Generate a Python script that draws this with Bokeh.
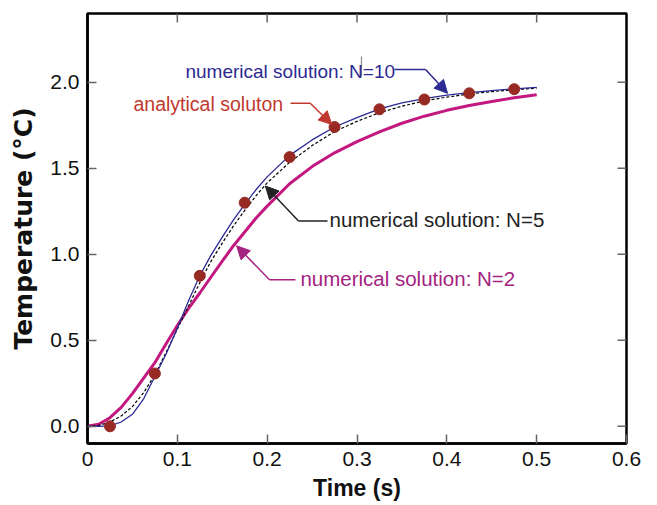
from bokeh.plotting import figure
from bokeh.models import Range1d, FixedTicker, Label, Arrow, NormalHead, PrintfTickFormatter
from bokeh.embed import file_html
from bokeh.resources import INLINE

# ---- data ----
t_dots = [0.025, 0.075, 0.125, 0.175, 0.225, 0.275, 0.325, 0.375, 0.425, 0.475]
T_analytical = [0.0, 0.307, 0.875, 1.30, 1.565, 1.74, 1.843, 1.90, 1.936, 1.96]

t_curve = [0, 0.0125, 0.025, 0.0375, 0.05, 0.0625, 0.075, 0.0875, 0.1, 0.1125,
           0.125, 0.1375, 0.15, 0.1625, 0.175, 0.1875, 0.2, 0.225, 0.25, 0.275,
           0.3, 0.325, 0.35, 0.375, 0.4, 0.425, 0.45, 0.475, 0.5]
T_n10 = [0, 0, 0.002, 0.025, 0.07, 0.16, 0.29, 0.42, 0.57, 0.73,
         0.875, 0.995, 1.10, 1.20, 1.29, 1.375, 1.45, 1.575, 1.665, 1.74,
         1.795, 1.845, 1.88, 1.905, 1.925, 1.94, 1.952, 1.962, 1.97]
T_n5 = [0, 0.005, 0.025, 0.06, 0.115, 0.195, 0.30, 0.43, 0.565, 0.70,
        0.835, 0.96, 1.065, 1.165, 1.255, 1.34, 1.415, 1.535, 1.632, 1.713,
        1.773, 1.823, 1.861, 1.892, 1.914, 1.932, 1.946, 1.957, 1.966]
T_n2 = [0, 0.012, 0.05, 0.11, 0.19, 0.28, 0.37, 0.48, 0.586, 0.685,
        0.775, 0.868, 0.96, 1.05, 1.13, 1.21, 1.28, 1.41, 1.51, 1.59,
        1.655, 1.712, 1.762, 1.803, 1.837, 1.865, 1.888, 1.91, 1.928]

x_ticks = [0, 0.1, 0.2, 0.3, 0.4, 0.5, 0.6]
y_ticks = [0, 0.5, 1.0, 1.5, 2.0]

# ---- styles ----
C_N10 = "#2c2a92"
C_N2 = "#c2187f"
C_DOT = "#982a24"
C_ANA_TXT = "#c0392f"
C_N2_TXT = "#a3237f"
TICK_C = "#666666"
FONT = "Liberation Sans"

X0, X1, Y0, Y1 = 0, 0.6, -0.1, 2.4
FRAME_W, FRAME_H, TICK_PX = 539, 430, 9

p = figure(width=657, height=505, output_backend="svg", toolbar_location=None,
           x_range=Range1d(X0, X1), y_range=Range1d(Y0, Y1),
           min_border_left=87, min_border_right=31, min_border_top=13, min_border_bottom=62)
p.xgrid.visible = False
p.ygrid.visible = False
p.outline_line_color = "black"
p.outline_line_width = 2.5
p.outline_line_alpha = 1.0

for ax, ticks in ((p.xaxis[0], x_ticks), (p.yaxis[0], y_ticks)):
    ax.ticker = FixedTicker(ticks=ticks)
    ax.formatter = PrintfTickFormatter(format="%.1f")
    ax.major_tick_in = TICK_PX
    ax.major_tick_out = 0
    ax.major_tick_line_color = TICK_C
    ax.major_tick_line_width = 1.5
    ax.minor_tick_line_color = None
    ax.axis_line_color = "black"
    ax.axis_line_width = 2.5
    ax.major_label_text_font = FONT
    ax.major_label_text_font_size = "21px"
    ax.major_label_text_color = "#111111"
    ax.axis_label_text_font_style = "bold"
    ax.axis_label_text_color = "#111111"

p.xaxis[0].axis_label_text_font = FONT
p.xaxis[0].axis_label_text_font_size = "23px"
p.yaxis[0].axis_label_text_font = "DejaVu Sans"
p.yaxis[0].axis_label_text_font_size = "25px"
p.xaxis[0].major_label_overrides = {0: "0"}
p.xaxis[0].major_label_standoff = 8
p.xaxis[0].axis_label_standoff = 6
p.yaxis[0].major_label_standoff = 8
p.yaxis[0].axis_label_standoff = 9
p.xaxis[0].axis_label = "Time (s)"
p.yaxis[0].axis_label = "Temperature (°C)"

# inward ticks on the top and right edges
dy_tick = TICK_PX * (Y1 - Y0) / FRAME_H
dx_tick = TICK_PX * (X1 - X0) / FRAME_W
top_x = x_ticks[1:-1]
p.segment(x0=top_x, y0=[Y1] * len(top_x), x1=top_x, y1=[Y1 - dy_tick] * len(top_x),
          line_color=TICK_C, line_width=1.5)
p.segment(x0=[X1] * len(y_ticks), y0=y_ticks, x1=[X1 - dx_tick] * len(y_ticks), y1=y_ticks,
          line_color=TICK_C, line_width=1.5)

# ---- curves ----
p.line(t_curve, T_n2, color=C_N2, line_width=3)
p.line(t_curve, T_n5, color="black", line_width=1.2, line_dash="3 2")
p.line(t_curve, T_n10, color=C_N10, line_width=1.3)
p.scatter(t_dots, T_analytical, size=11, color=C_DOT)

# stray vertical mark in the original
p.segment(x0=[0.305], y0=[2.035], x1=[0.305], y1=[2.15], color="#888888", line_width=1.2)

# ---- annotations ----
def callout(text, color, size, tx, ty, kx, ky, hx, hy, tipx, tipy, lcolor):
    p.add_layout(Label(x=tx, y=ty, text=text, text_color=color, text_font=FONT,
                       text_font_size=size, text_baseline="middle", text_align="left"))
    p.add_layout(Arrow(end=None, x_start=hx, y_start=ky, x_end=kx, y_end=ky,
                       line_color=lcolor, line_width=1.5))
    p.add_layout(Arrow(end=NormalHead(size=13, fill_color=lcolor, line_color=lcolor),
                       x_start=kx, y_start=ky, x_end=tipx, y_end=tipy,
                       line_color=lcolor, line_width=1.5))

callout("numerical solution: N=10", C_N10, "19px", 0.109, 2.064,
        0.3763, 2.075, 0.3418, 2.075, 0.4008, 1.936, C_N10)
callout("analytical soluton", C_ANA_TXT, "19.5px", 0.0512, 1.872,
        0.248, 1.878, 0.226, 1.878, 0.272, 1.755, "#c0392f")
callout("numerical solution: N=5", "#222222", "20.5px", 0.2694, 1.20,
        0.2349, 1.194, 0.2672, 1.194, 0.198, 1.397, "#222222")
callout("numerical solution: N=2", C_N2_TXT, "20.5px", 0.237, 0.858,
        0.2026, 0.852, 0.2315, 0.852, 0.166, 1.049, C_N2_TXT)

open("out.html", "w").write(file_html(p, INLINE))
